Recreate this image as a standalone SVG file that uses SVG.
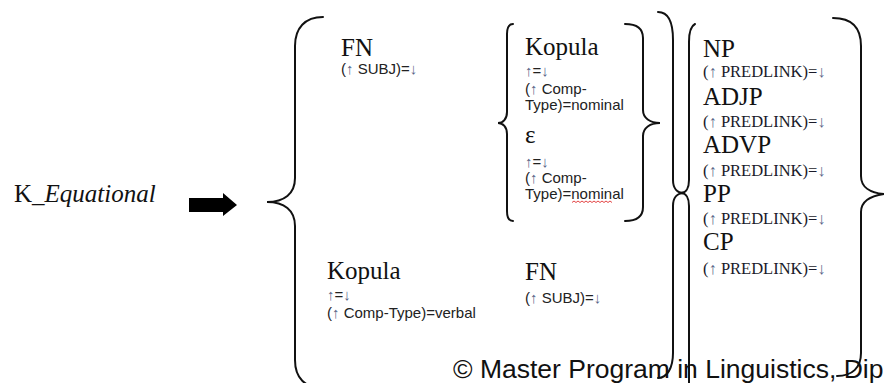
<svg xmlns="http://www.w3.org/2000/svg" width="884" height="383" viewBox="0 0 884 383">
  <style>
    .head { font-family: "Liberation Serif", "Times New Roman", serif; font-size: 25px; fill: #111; }
    .ann { font-family: "Liberation Sans", Arial, sans-serif; font-size: 15px; fill: #222; }
    .pl { font-family: "Liberation Serif", "Times New Roman", serif; font-size: 16.5px; fill: #1a1a2a; }
    .ar { fill: #5b6688; }
    .brace { fill: none; stroke: #111; stroke-width: 2; stroke-linecap: round; }
    .foot { font-family: "Liberation Sans", Arial, sans-serif; font-size: 26.5px; fill: #111; }
  </style>

  <!-- left-hand side of the rule -->
  <g id="lhs">
    <text class="head" x="14" y="202">K_<tspan font-style="italic">Equational</tspan></text>
  </g>

  <!-- rewrite arrow -->
  <g id="rewrite-arrow">
    <polygon points="189,198 223,198 223,193 237,205 223,216 223,212 189,212" fill="#000"/>
  </g>

  <!-- brackets grouping the alternatives -->
  <g id="braces">
    <!-- outer opening brace -->
    <path class="brace" d="M323,17 C305,17 295,28 295,46 L295,178 C295,194 284,202 267,202 C284,202 295,210 295,226 L295,360 C295,378 305,388 323,388"/>
    <!-- inner pair around Kopula / epsilon -->
    <path class="brace" d="M513,24 C509,24 507,28 507,34 L507,112 C507,119 503,123 498,123 C503,123 507,127 507,134 L507,211 C507,217 509,221 513,221"/>
    <path class="brace" d="M625,24 C637,24 643,29 643,38 L643,110 C643,118 650,123 660,123 C650,123 643,128 643,136 L643,207 C643,216 637,221 625,221"/>
    <!-- outer closing brace -->
    <path class="brace" d="M658,12 C668,12 673,22 673,40 L673,180 C673,188 677,193 684,193 C677,193 673,198 673,206 L673,353 C673,368 667,378 658,378"/>
    <!-- opening brace of the predicate list -->
    <path class="brace" d="M695,24 C691,26 689,32 689,42 L689,180 C689,188 686,193 681,193 C686,193 689,198 689,206 L689,395"/>
    <!-- closing brace of the predicate list -->
    <path class="brace" d="M833,18 C852,18 861,28 861,46 L861,176 C861,187 870,193 884,194 C870,196 861,202 861,212 L861,353 C861,368 852,376 837,376"/>
  </g>

  <!-- first alternative: FN followed by Kopula / epsilon -->
  <g id="fn-top">
    <text class="head" x="341" y="56">FN</text>
    <text class="ann" x="341" y="74">(<tspan class="ar">↑</tspan> SUBJ)=<tspan class="ar">↓</tspan></text>
  </g>
  <g id="kopula-nominal">
    <text class="head" x="525" y="55">Kopula</text>
    <text class="ann" x="525" y="76"><tspan class="ar">↑</tspan>=<tspan class="ar">↓</tspan></text>
    <text class="ann" x="525" y="94">(<tspan class="ar">↑</tspan> Comp-</text>
    <text class="ann" x="525" y="110">Type)=nominal</text>
  </g>
  <g id="epsilon">
    <text class="head" x="525" y="143">ε</text>
    <text class="ann" x="525" y="167"><tspan class="ar">↑</tspan>=<tspan class="ar">↓</tspan></text>
    <text class="ann" x="525" y="183">(<tspan class="ar">↑</tspan> Comp-</text>
    <text class="ann" x="525" y="199">Type)=nominal</text>
    <path d="M572,202.5 l2,-1.5 l2,1.5 l2,-1.5 l2,1.5 l2,-1.5 l2,1.5 l2,-1.5 l2,1.5 l2,-1.5 l2,1.5 l2,-1.5 l2,1.5 l2,-1.5 l2,1.5 l2,-1.5 l2,1.5 l2,-1.5 l2,1.5 l2,-1.5 l2,1.5" fill="none" stroke="#e03030" stroke-width="0.9"/>
  </g>

  <!-- second alternative: Kopula followed by FN -->
  <g id="kopula-verbal">
    <text class="head" x="327" y="279">Kopula</text>
    <text class="ann" x="327" y="300"><tspan class="ar">↑</tspan>=<tspan class="ar">↓</tspan></text>
    <text class="ann" x="327" y="318">(<tspan class="ar">↑</tspan> Comp-Type)=verbal</text>
  </g>
  <g id="fn-bottom">
    <text class="head" x="525" y="280">FN</text>
    <text class="ann" x="525" y="303">(<tspan class="ar">↑</tspan> SUBJ)=<tspan class="ar">↓</tspan></text>
  </g>

  <!-- predicate complements -->
  <g id="np">
    <text class="head" x="703" y="57">NP</text>
    <text class="pl" x="703" y="77">(<tspan class="ar">↑</tspan> PREDLINK)=<tspan class="ar">↓</tspan></text>
  </g>
  <g id="adjp">
    <text class="head" x="703" y="105">ADJP</text>
    <text class="pl" x="703" y="127">(<tspan class="ar">↑</tspan> PREDLINK)=<tspan class="ar">↓</tspan></text>
  </g>
  <g id="advp">
    <text class="head" x="703" y="153">ADVP</text>
    <text class="pl" x="703" y="176">(<tspan class="ar">↑</tspan> PREDLINK)=<tspan class="ar">↓</tspan></text>
  </g>
  <g id="pp">
    <text class="head" x="703" y="202">PP</text>
    <text class="pl" x="703" y="224">(<tspan class="ar">↑</tspan> PREDLINK)=<tspan class="ar">↓</tspan></text>
  </g>
  <g id="cp">
    <text class="head" x="703" y="250">CP</text>
    <text class="pl" x="703" y="274">(<tspan class="ar">↑</tspan> PREDLINK)=<tspan class="ar">↓</tspan></text>
  </g>

  <!-- footer line -->
  <text class="foot" x="453" y="378">© Master Program in Linguistics, Dip</text>
</svg>
